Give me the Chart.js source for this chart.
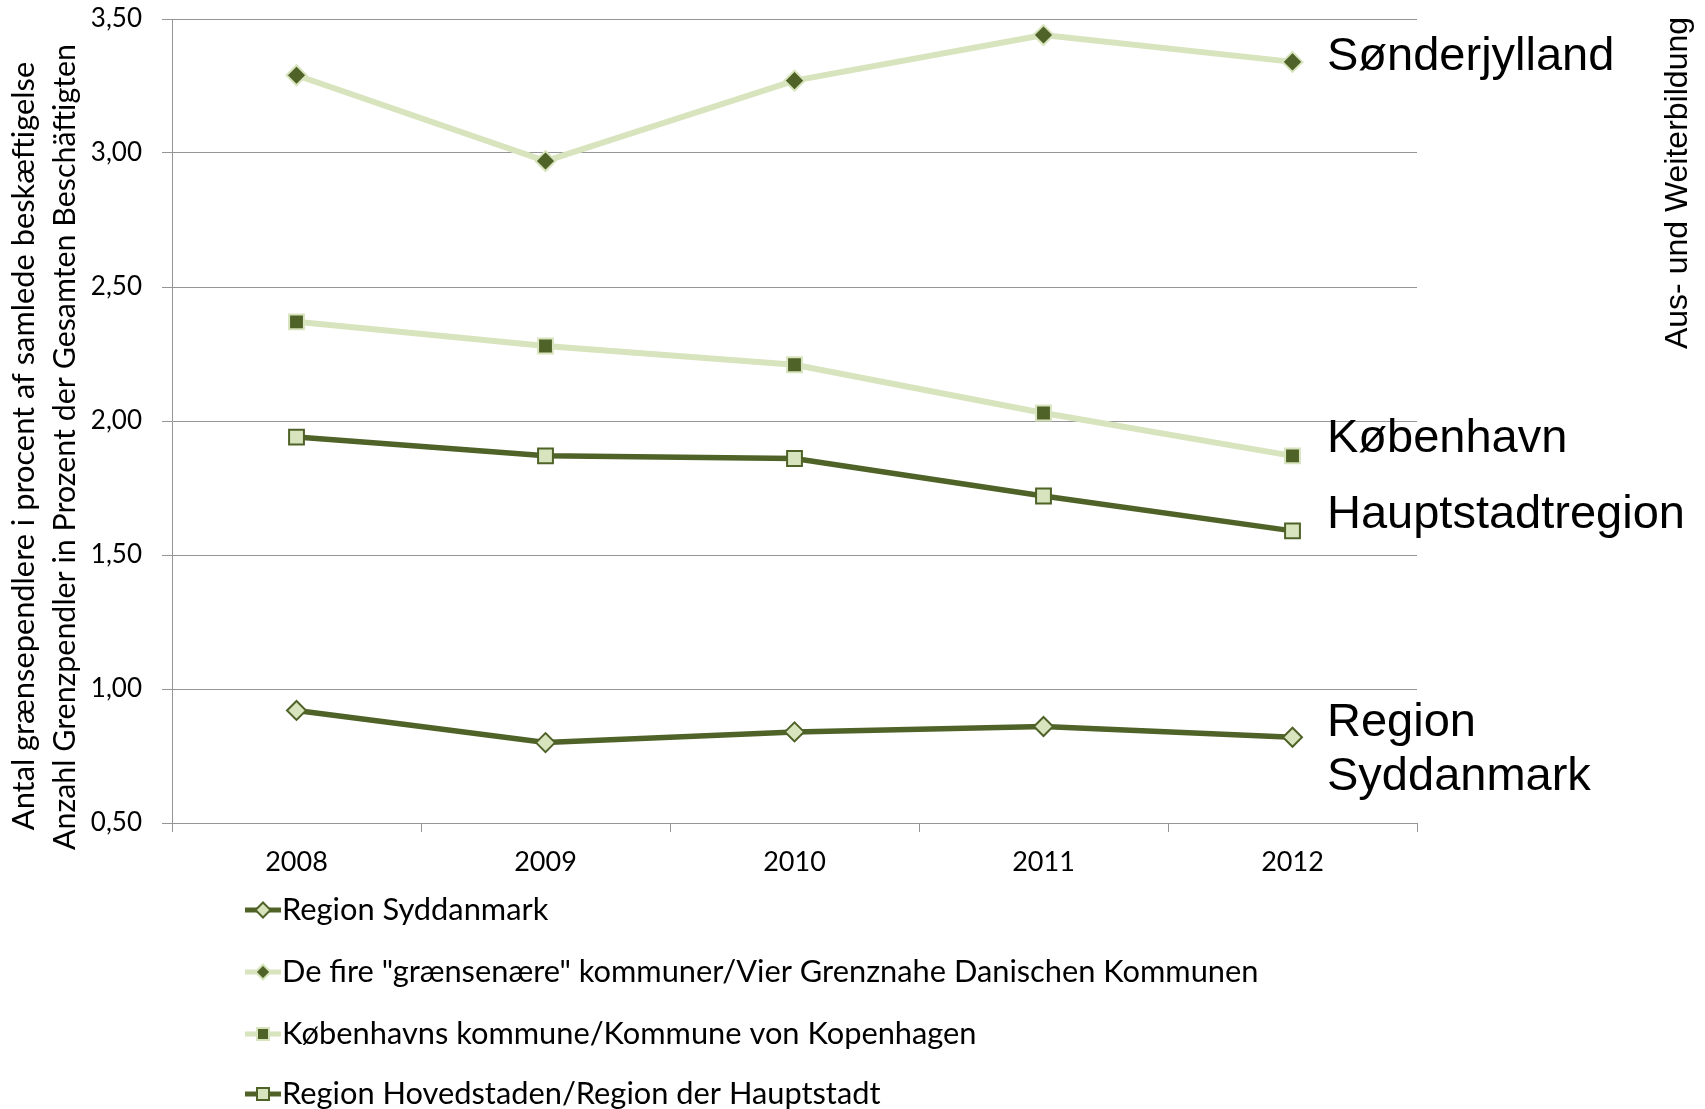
<!DOCTYPE html>
<html>
<head>
<meta charset="utf-8">
<script src="https://cdn.jsdelivr.net/npm/chart.js@4.4.0/dist/chart.umd.min.js"></script>
<style>
    html, body { margin: 0; padding: 0; background: #fff; }
    canvas { display: block; }
</style>
</head>
<body>
<canvas id="chart" width="1705" height="1109"></canvas>
<script>
(function () {

    // Data
    var years = ["2008", "2009", "2010", "2011", "2012"];
    var syddanmark = [0.92, 0.80, 0.84, 0.86, 0.82];
    var graensenaere = [3.29, 2.97, 3.27, 3.44, 3.34];
    var koebenhavn = [2.37, 2.28, 2.21, 2.03, 1.87];
    var hovedstaden = [1.94, 1.87, 1.86, 1.72, 1.59];

    var seriesNames = [
        "Region Syddanmark",
        "De fire \"grænsenære\" kommuner/Vier Grenznahe Danischen Kommunen",
        "Københavns kommune/Kommune von Kopenhagen",
        "Region Hovedstaden/Region der Hauptstadt"
    ];
    var yTicks = [0.5, 1.0, 1.5, 2.0, 2.5, 3.0, 3.5];
    var yTitle = [
        "Antal grænsependlere i procent af samlede beskæftigelse",
        "Anzahl Grenzpendler in Prozent der Gesamten Beschäftigten"
    ];
    var sideLabels = [
        { text: "Sønderjylland", y: 57 },
        { text: "København", y: 439 },
        { text: "Hauptstadtregion", y: 515 },
        { text: "Region", y: 723 },
        { text: "Syddanmark", y: 777 }
    ];
    var sideTitle = "Aus- und Weiterbildung";

    var DARK = "#4f6228";
    var LIGHT = "#d7e4bd";
    var GRID = "#959595";
    var FONT = "Lato";

    var Extras = {
        id: "extras",
        afterDraw: function (chart) {
            var ctx = chart.ctx;
            ctx.save();

            // y axis title, two rotated lines
            ctx.fillStyle = "#000";
            ctx.font = "30.8px " + FONT;
            ctx.textAlign = "center";
            ctx.textBaseline = "middle";
            ctx.save();
            ctx.translate(24, 446);
            ctx.rotate(-Math.PI / 2);
            ctx.fillText(yTitle[0], 0, 0);
            ctx.restore();
            ctx.save();
            ctx.translate(65, 447);
            ctx.rotate(-Math.PI / 2);
            ctx.font = "30.4px " + FONT;
            ctx.fillText(yTitle[1], 0, 0);
            ctx.restore();

            // labels next to the lines
            ctx.font = "47px 'Liberation Sans', Arial, sans-serif";
            ctx.textAlign = "left";
            sideLabels.forEach(function (l) {
                ctx.fillText(l.text, 1327, l.y);
            });

            ctx.font = "32px 'Liberation Sans', Arial, sans-serif";
            ctx.textAlign = "center";
            ctx.save();
            ctx.translate(1678, 183);
            ctx.rotate(-Math.PI / 2);
            ctx.fillText(sideTitle, 0, 0);
            ctx.restore();

            // vertical legend under the axis
            var rows = [910, 972, 1034, 1094];
            chart.data.datasets.forEach(function (ds, i) {
                var y = rows[i];
                ctx.strokeStyle = ds.borderColor;
                ctx.lineWidth = 5;
                ctx.beginPath();
                ctx.moveTo(245, y);
                ctx.lineTo(281, y);
                ctx.stroke();
                ctx.fillStyle = ds.pointBackgroundColor;
                ctx.strokeStyle = ds.pointBorderColor;
                ctx.lineWidth = 2;
                Chart.helpers.drawPoint(ctx, {
                    pointStyle: ds.pointStyle,
                    radius: ds.pointStyle === "rect" ? 8.5 : 7.5,
                    rotation: 0,
                    borderWidth: 2
                }, 263, y);
                ctx.fillStyle = "#000";
                ctx.font = "30.8px " + FONT;
                ctx.textAlign = "left";
                ctx.textBaseline = "middle";
                ctx.fillText(ds.label, 282, y);
            });

            ctx.restore();
        }
    };

    function series(label, data, lineColor, width, style, fill, border, radius) {
        return {
            label: label,
            data: data,
            borderColor: lineColor,
            borderWidth: width,
            pointStyle: style,
            pointRadius: radius,
            pointHoverRadius: radius,
            pointBackgroundColor: fill,
            pointBorderColor: border,
            pointBorderWidth: 2,
            tension: 0,
            fill: false
        };
    }

    new Chart(document.getElementById("chart"), {
        type: "line",
        data: {
            labels: years,
            datasets: [
                series(seriesNames[0], syddanmark, DARK, 5.5, "rectRot", LIGHT, DARK, 9.5),
                series(seriesNames[1], graensenaere, LIGHT, 6, "rectRot", DARK, LIGHT, 10),
                series(seriesNames[2], koebenhavn, LIGHT, 6, "rect", DARK, LIGHT, 10.5),
                series(seriesNames[3], hovedstaden, DARK, 5.5, "rect", LIGHT, DARK, 10.5)
            ]
        },
        options: {
            responsive: false,
            animation: false,
            layout: { padding: { left: 0, right: 288, top: 19, bottom: 0 } },
            plugins: {
                legend: { display: false },
                tooltip: { enabled: false }
            },
            scales: {
                x: {
                    offset: true,
                    grid: {
                        offset: true,
                        drawOnChartArea: false,
                        color: GRID,
                        tickLength: 9
                    },
                    border: { color: GRID },
                    ticks: {
                        color: "#000",
                        font: { family: FONT, size: 27 },
                        padding: 14
                    },
                    afterFit: function (s) { s.height = 1109 - 823; }
                },
                y: {
                    min: 0.5,
                    max: 3.5,
                    afterBuildTicks: function (s) {
                        s.ticks = yTicks.map(function (v) { return { value: v }; });
                    },
                    grid: { color: GRID, tickLength: 10 },
                    border: { color: GRID },
                    ticks: {
                        color: "#000",
                        font: { family: FONT, size: 26 },
                        padding: 20,
                        callback: function (v) { return v.toFixed(2).replace(".", ","); }
                    },
                    afterFit: function (s) {
                        s.width = 172;
                        s.paddingTop = 0;
                        s.paddingBottom = 0;
                    }
                }
            }
        },
        plugins: [Extras]
    });
})();
</script>
</body>
</html>
